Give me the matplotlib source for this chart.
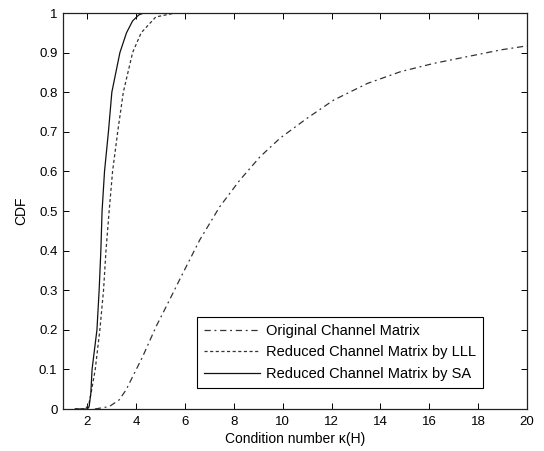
import matplotlib
matplotlib.use("Agg")
import matplotlib.pyplot as plt

plt.rcParams['font.family'] = ['Liberation Sans', 'DejaVu Sans']

# Original channel matrix (dash-dot)
orig_x = [2.3, 2.89, 3.3, 3.58, 4.26, 4.81, 5.36, 5.77, 6.6, 7.42, 8.24, 9.07, 9.89,
          10.99, 12.08, 13.46, 14.83, 16.2, 17.57, 18.94, 20.0]
orig_y = [0.0, 0.006, 0.023, 0.048, 0.132, 0.208, 0.275, 0.326, 0.427, 0.511, 0.578,
          0.637, 0.684, 0.734, 0.780, 0.822, 0.852, 0.873, 0.890, 0.907, 0.917]

# Reduced by LLL (dotted)
lll_x = [1.5, 1.9, 2.05, 2.15, 2.32, 2.51, 2.66, 2.76, 2.89, 3.03, 3.24, 3.47, 3.85,
         4.2, 4.8, 5.6, 20.0]
lll_y = [0.0, 0.0, 0.01, 0.04, 0.1, 0.2, 0.3, 0.4, 0.5, 0.6, 0.7, 0.8, 0.9, 0.95,
         0.99, 1.0, 1.0]

# Reduced by SA (solid)
sa_x = [1.5, 2.0, 2.07, 2.14, 2.19, 2.39, 2.48, 2.55, 2.6, 2.7, 2.86, 3.0, 3.33,
        3.6, 3.85, 4.1, 4.3, 20.0]
sa_y = [0.0, 0.0, 0.006, 0.04, 0.1, 0.2, 0.3, 0.4, 0.5, 0.6, 0.7, 0.8, 0.9,
        0.95, 0.98, 0.995, 1.0, 1.0]

labels = ["Original Channel Matrix", "Reduced Channel Matrix by LLL",
          "Reduced Channel Matrix by SA"]

xticks = [2, 4, 6, 8, 10, 12, 14, 16, 18, 20]
yticks = [0, 0.1, 0.2, 0.3, 0.4, 0.5, 0.6, 0.7, 0.8, 0.9, 1]
ytick_labels = ["0", "0.1", "0.2", "0.3", "0.4", "0.5", "0.6", "0.7", "0.8", "0.9", "1"]

fig = plt.figure(figsize=(5.44, 4.51), dpi=100)
ax = fig.add_axes([63/544, 1-409/451, (527-63)/544, (409-13)/451])

ax.plot(orig_x, orig_y, linestyle='-.', color='#333333', lw=0.9, label=labels[0],
        dashes=(5, 3, 1.5, 3))
ax.plot(lll_x, lll_y, linestyle=':', color='#333333', lw=0.9, label=labels[1],
        dashes=(2.5, 2))
ax.plot(sa_x, sa_y, linestyle='-', color='#111111', lw=0.9, label=labels[2])

ax.set_xlim(1, 20)
ax.set_ylim(0, 1)
ax.set_xticks(xticks)
ax.set_xticklabels([str(t) for t in xticks])
ax.set_yticks(yticks)
ax.set_yticklabels(ytick_labels)
ax.tick_params(direction='in', top=True, right=True, length=4, width=0.7,
               labelsize=9.5, colors='black')
ax.tick_params(axis='y', pad=4)
ax.tick_params(axis='x', pad=5)
for s in ax.spines.values():
    s.set_linewidth(0.9)
    s.set_color('#222222')

ax.set_xlabel("Condition number κ(H)", fontsize=10, labelpad=3)
ax.set_ylabel("CDF", fontsize=10, labelpad=8)

leg = ax.legend(loc='lower right', bbox_to_anchor=(0.905, 0.053), borderaxespad=0,
                fontsize=10.5, handlelength=3.8, handletextpad=0.4,
                fancybox=False, framealpha=1, edgecolor='black',
                borderpad=0.5, labelspacing=0.5)
leg.get_frame().set_linewidth(0.8)

fig.savefig("out.png", dpi=100)
